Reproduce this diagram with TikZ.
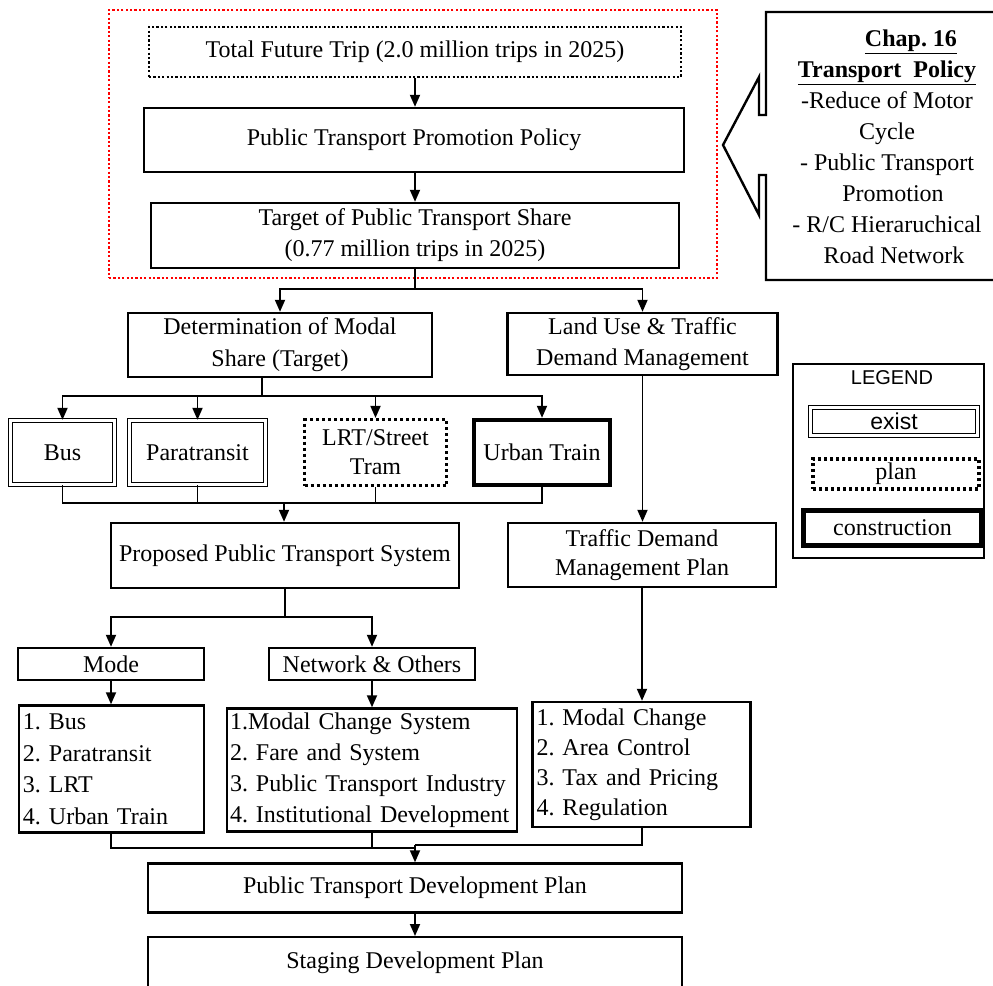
\documentclass[tikz,border=0pt]{standalone}
\usepackage{fontspec}
\setmainfont{Liberation Serif}
\newfontfamily\legendsans{Liberation Sans}
\usetikzlibrary{arrows.meta}

\begin{document}
\frenchspacing
\begin{tikzpicture}[x=1pt,y=-1pt,
  every node/.style={font=\fontsize{24}{31}\selectfont},
  box/.style={draw, line width=2.4pt, rectangle, inner sep=0pt, align=center},
  existbox/.style={draw, line width=1.3pt, double, double distance=2.6pt, rectangle, inner sep=0pt, align=center},
  planbox/.style={draw, line width=3.2pt, dash pattern=on 3pt off 3pt, rectangle, inner sep=0pt, align=center},
  buildbox/.style={draw, line width=4.4pt, rectangle, inner sep=0pt, align=center},
  listbox/.style={box, inner xsep=4pt, align=left},
  link/.style={line width=1.8pt},
  heavylink/.style={line width=2.6pt},
  arr/.style={link, -{Triangle[length=12pt,width=10pt]}},
]
\clip (0,0) rectangle (993,985);

% ---------- policy frame ----------
\node[draw=red, line width=2.2pt, dash pattern=on 2.2pt off 2.2pt, minimum width=608, minimum height=268, inner sep=0pt] (focus) at (413,144) {};
\node[box, line width=2.2pt, dash pattern=on 2.2pt off 2.2pt, minimum width=532, minimum height=50] (total) at (415,52) {Total Future Trip (2.0 million trips in 2025)};
\node[box, minimum width=540, minimum height=64] (ptpp) at (414,140) {Public Transport Promotion Policy};
\node[box, minimum width=528, minimum height=65] (target) at (415,235.5) {Target of Public Transport Share\\(0.77 million trips in 2025)};

% ---------- chapter callout ----------
\draw[line width=2.4pt] (1000,12) -- (766,12) -- (766,115) -- (759,115) -- (759,77)
  -- (723,145) -- (759,215) -- (759,175) -- (766,175) -- (766,280) -- (1000,280);
\node[align=center, inner sep=0pt] (chap) at (887,147)
  {\hspace*{48pt}\textbf{\underline{Chap. 16}}\\
   \textbf{\underline{Transport\ \ Policy}}\\
   -Reduce of Motor\\
   Cycle\\
   - Public Transport\\
   \hspace*{12pt}Promotion\\
   - R/C Hieraruchical\\
   \hspace*{14pt}Road Network};

% ---------- second level ----------
\node[box, minimum width=304, minimum height=64, font=\fontsize{24}{32}\selectfont] (modal) at (280,345) {Determination of Modal\\Share (Target)};
\node[box, minimum width=270, minimum height=62, font=\fontsize{24}{31}\selectfont] (landuse) at (642.5,344) {Land Use \& Traffic\\Demand Management};

% ---------- modes ----------
\node[existbox, minimum width=104, minimum height=64] (bus) at (62.5,452.5) {Bus};
\node[existbox, minimum width=136, minimum height=64] (para) at (197.5,452.5) {Paratransit};
\node[planbox, minimum width=142, minimum height=66, font=\fontsize{24}{29}\selectfont] (lrt) at (375.5,452.5) {LRT/Street\\Tram};
\node[buildbox, minimum width=136, minimum height=65] (urban) at (542,452.5) {Urban Train};

% ---------- systems ----------
\node[box, minimum width=348, minimum height=65] (proposed) at (285,555.5) {Proposed Public Transport System};
\node[box, minimum width=268, minimum height=64, font=\fontsize{24}{29}\selectfont] (tdmplan) at (642,555) {Traffic Demand\\Management Plan};
\node[box, minimum width=186, minimum height=32] (mode) at (111,664) {Mode};
\node[box, minimum width=206, minimum height=32] (network) at (372,664) {Network \& Others};

% ---------- item lists ----------
\node[listbox, minimum width=185, minimum height=127, text width=177, font=\fontsize{24}{31.5}\selectfont] (modelist) at (111.5,769) {1. Bus\\2. Paratransit\\3. LRT\\4. Urban Train};
\node[listbox, minimum width=290, minimum height=123, text width=284, inner xsep=3pt, font=\fontsize{24}{31}\selectfont] (netlist) at (372,770) {1.Modal Change System\\2. Fare and System\\3. Public Transport Industry\\4. Institutional Development};
\node[listbox, minimum width=218, minimum height=125, text width=210, font=\fontsize{24}{30}\selectfont] (tdmlist) at (641.5,764.5) {1. Modal Change\\2. Area Control\\3. Tax and Pricing\\4. Regulation};

% ---------- plans ----------
\node[box, minimum width=534, minimum height=49] (ptdp) at (415,888) {Public Transport Development Plan};
\node[box, minimum width=534, minimum height=52, anchor=north] (staging) at (415,936) {Staging Development Plan};

% ---------- legend ----------
\node[draw, line width=1.8pt, minimum width=191, minimum height=194, inner sep=0pt] (legend) at (888.5,461) {};
\node[font=\legendsans\fontsize{20}{24}\selectfont, inner sep=0pt] (legendtitle) at (892,378) {LEGEND};
\node[existbox, minimum width=167, minimum height=28, font=\legendsans\fontsize{23}{26}\selectfont] (existkey) at (894,421.5) {exist};
\node[planbox, minimum width=166, minimum height=30] (plankey) at (896,474) {plan};
\node[buildbox, line width=5pt, minimum width=178, minimum height=35] (buildkey) at (892.5,528) {construction};

% ---------- connectors ----------
\coordinate (tsplit) at (415,289);
\coordinate (fan) at (262,396);
\coordinate (bjoin) at (284,503);
\coordinate (pfan) at (285,617);
\coordinate (lowjoin) at (415,848);
\coordinate (rightjoin) at (415,845);

\draw[arr] (total.south) -- (total.south |- ptpp.north);
\draw[arr] (ptpp.south -| total.south) -- (target.north);
\draw[link] (target.south) -- (tsplit);
\draw[arr] (tsplit) -| (modal.north);
\draw[arr] (tsplit) -| (landuse.north);

\draw[link] (fan |- modal.south) -- (fan);
\draw[arr] (fan) -| (bus.north);
\draw[arr] (fan) -| (para.north);
\draw[arr] (fan) -| (lrt.north);
\draw[arr] (fan) -| (urban.north);
\draw[heavylink] (fan) -- (fan -| para.north);

\draw[link] (bus.south) |- (urban.south |- bjoin) -- (urban.south);
\draw[link] (para.south) -- (para.south |- bjoin);
\draw[link] (lrt.south) -- (lrt.south |- bjoin);
\draw[heavylink] (para.south |- bjoin) -- (lrt.south |- bjoin);
\draw[arr] (bjoin) -- (bjoin |- proposed.north);

\draw[link] (proposed.south -| pfan) -- (pfan);
\draw[arr] (pfan) -| (mode.north);
\draw[arr] (pfan) -| (network.north);
\draw[arr] (mode.south) -- (mode.south |- modelist.north);
\draw[arr] (network.south) -- (network.south |- netlist.north);

\draw[arr] (landuse.south) -- (landuse.south |- tdmplan.north);
\draw[arr] (tdmplan.south) -- (tdmplan.south |- tdmlist.north);

\draw[link] (modelist.south -| mode.south) |- (lowjoin);
\draw[link] (netlist.south -| network.south) -- (network.south |- lowjoin);
\draw[heavylink] (tdmlist.south -| tdmplan.south) |- (rightjoin);
\draw[arr] (rightjoin) -- (ptdp.north);
\draw[arr] (ptdp.south) -- (staging.north);
\end{tikzpicture}
\end{document}
